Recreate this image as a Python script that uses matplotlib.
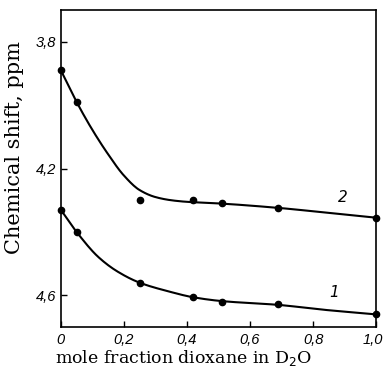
import numpy as np
import matplotlib.pyplot as plt
import matplotlib.transforms as mtransforms
from matplotlib.ticker import FuncFormatter

# measured points (mole fraction dioxane, chemical shift ppm)
x2 = [0.0, 0.05, 0.25, 0.42, 0.51, 0.69, 1.0]
y2 = [3.89, 3.99, 4.30, 4.30, 4.31, 4.325, 4.355]
x1 = [0.0, 0.05, 0.25, 0.42, 0.51, 0.69, 1.0]
y1 = [4.33, 4.40, 4.56, 4.605, 4.62, 4.628, 4.66]

# hand-drawn curves
cx2 = [0.0, 0.05, 0.1, 0.15, 0.2, 0.25, 0.3, 0.35, 0.4, 0.5, 0.7, 0.85, 1.0]
cy2 = [3.89, 3.99, 4.078, 4.155, 4.222, 4.268, 4.29, 4.30, 4.305, 4.31, 4.325, 4.34, 4.355]
cx1 = [0.0, 0.05, 0.12, 0.18, 0.25, 0.34, 0.42, 0.51, 0.69, 0.83, 1.0]
cy1 = [4.33, 4.40, 4.48, 4.525, 4.56, 4.587, 4.606, 4.618, 4.63, 4.645, 4.66]


def smooth(xs, ys, n=200):
    # monotone cubic (pchip) through the read points, just for drawing
    x = np.asarray(xs, float)
    y = np.asarray(ys, float)
    h = np.diff(x)
    d = np.diff(y) / h
    m = np.zeros_like(y)
    for k in range(1, len(x) - 1):
        if d[k - 1] * d[k] > 0:
            w1 = 2 * h[k] + h[k - 1]
            w2 = h[k] + 2 * h[k - 1]
            m[k] = (w1 + w2) / (w1 / d[k - 1] + w2 / d[k])
    m[0] = d[0]
    m[-1] = d[-1]
    xx = np.linspace(x[0], x[-1], n)
    i = np.clip(np.searchsorted(x, xx) - 1, 0, len(h) - 1)
    t = (xx - x[i]) / h[i]
    h00 = 2 * t**3 - 3 * t**2 + 1
    h10 = t**3 - 2 * t**2 + t
    h01 = -2 * t**3 + 3 * t**2
    h11 = t**3 - t**2
    yy = h00 * y[i] + h10 * h[i] * m[i] + h01 * y[i + 1] + h11 * h[i] * m[i + 1]
    return xx, yy


plt.rcParams['font.family'] = ['DejaVu Serif']

fig = plt.figure(figsize=(3.85, 3.70), dpi=100)
ax = fig.add_axes([0.158, 0.116, 0.819, 0.857])

ax.plot(*smooth(cx2, cy2), color='black', lw=1.5)
ax.plot(*smooth(cx1, cy1), color='black', lw=1.5)
ax.plot(x2, y2, 'o', color='black', ms=4.5, clip_on=False)
ax.plot(x1, y1, 'o', color='black', ms=4.5, clip_on=False)

ax.text(0.88, 4.305, '2', fontsize=11, style='italic', family='DejaVu Sans')
ax.text(0.85, 4.605, '1', fontsize=11, style='italic', family='DejaVu Sans')

ax.set_xlim(0, 1.0)
ax.set_ylim(4.70, 3.70)
ax.set_xticks([0, 0.2, 0.4, 0.6, 0.8, 1.0])
ax.set_yticks([3.8, 4.2, 4.6])
fmt = FuncFormatter(lambda v, p: '0' if v == 0 else ('%.1f' % v).replace('.', ','))
ax.xaxis.set_major_formatter(fmt)
ax.yaxis.set_major_formatter(fmt)
ax.tick_params(direction='in', length=4, width=1, labelsize=10.5)
ax.tick_params(axis='x', pad=4)
for lab in ax.get_xticklabels() + ax.get_yticklabels():
    lab.set_family('Liberation Sans')
    lab.set_style('italic')
# nudge "1,0" a little left so it stays inside the picture
last = ax.get_xticklabels()[-1]
last.set_transform(last.get_transform() +
                   mtransforms.ScaledTranslation(-3 / 100, 0, fig.dpi_scale_trans))
for s in ax.spines.values():
    s.set_linewidth(1.2)

ax.set_xlabel('mole fraction dioxane in D$_2$O', fontsize=12.5, labelpad=0)
ax.xaxis.set_label_coords(0.39, -0.066, transform=ax.transAxes)
ax.xaxis.label.set_va('top')
ax.set_ylabel('Chemical shift, ppm', fontsize=15)
ax.yaxis.set_label_coords(-0.117, 0.565)

fig.savefig('out.png', dpi=100)
